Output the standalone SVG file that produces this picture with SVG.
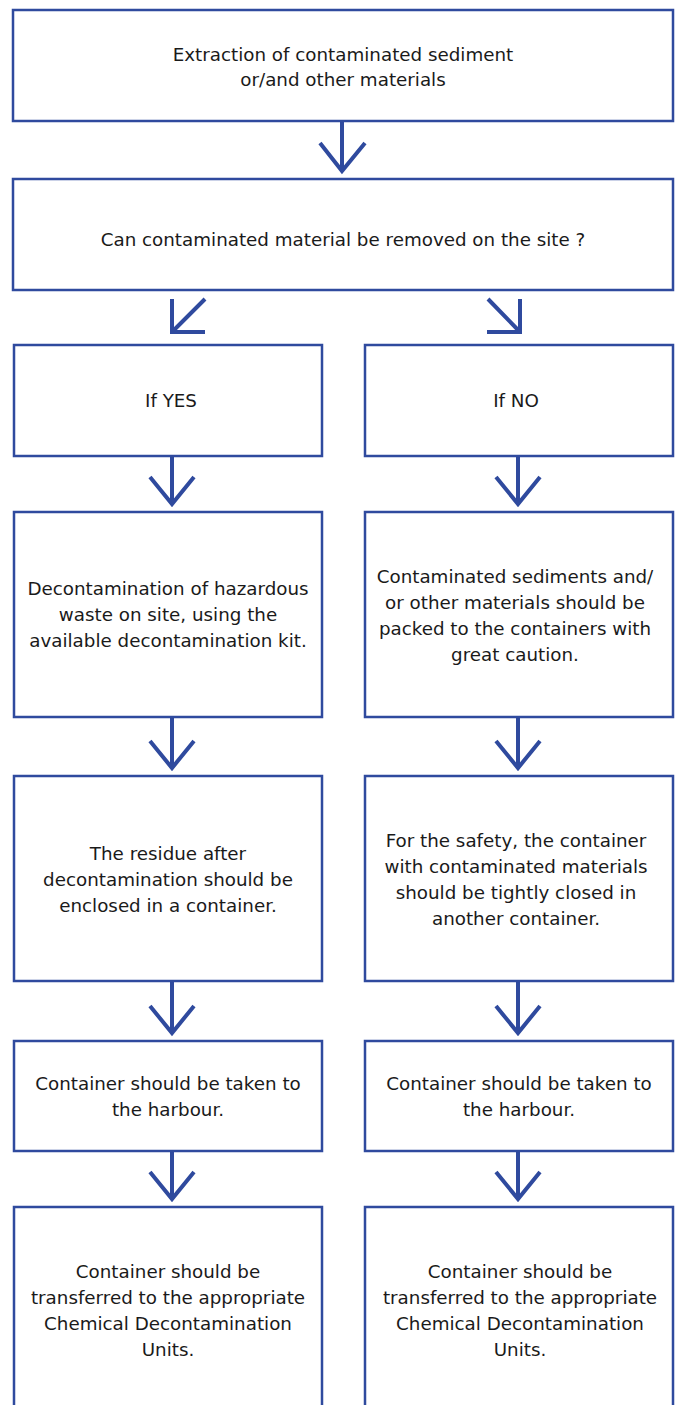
<svg xmlns="http://www.w3.org/2000/svg" width="680" height="1405" viewBox="0 0 680 1405">
<style>
.box{fill:#fff;stroke:#2f4a9e;stroke-width:2.5}
.arr{fill:none;stroke:#2f4a9e;stroke-width:4;stroke-linejoin:miter}
text{font-family:"DejaVu Sans","Liberation Sans",Arial,sans-serif;font-size:18.3px;fill:#1a1a1a;text-anchor:middle}
</style>
<rect width="680" height="1405" fill="#fff"/>
<g id="connectors">
<path class="arr" d="M342 121V171M320 143L342 171L365 143"/>
<path class="arr" d="M205 299L172 332M172 299V332H205"/>
<path class="arr" d="M488 299L520 332M520 299V332H487"/>
<path class="arr" d="M172 456V504M150 477L172 504L194 477"/>
<path class="arr" d="M518 456V504M496 477L518 504L540 477"/>
<path class="arr" d="M172 717V768M150 741L172 768L194 741"/>
<path class="arr" d="M518 717V768M496 741L518 768L540 741"/>
<path class="arr" d="M172 981V1033M150 1006L172 1033L194 1006"/>
<path class="arr" d="M518 981V1033M496 1006L518 1033L540 1006"/>
<path class="arr" d="M172 1151V1199M150 1172L172 1199L194 1172"/>
<path class="arr" d="M518 1151V1199M496 1172L518 1199L540 1172"/>
</g>
<g id="n1"><rect class="box" x="13" y="10" width="660" height="111"/>
<text x="343" y="61">Extraction of contaminated sediment</text>
<text x="343" y="86">or/and other materials</text></g>
<g id="n2"><rect class="box" x="13" y="179" width="660" height="111"/>
<text x="343" y="246">Can contaminated material be removed on the site ?</text></g>
<g id="yes"><rect class="box" x="14" y="345" width="308" height="111"/>
<text x="171" y="407">If YES</text></g>
<g id="no"><rect class="box" x="365" y="345" width="308" height="111"/>
<text x="516" y="407">If NO</text></g>
<g id="yes1"><rect class="box" x="14" y="512" width="308" height="205"/>
<text x="168" y="595">Decontamination of hazardous</text>
<text x="168" y="621">waste on site, using the</text>
<text x="168" y="647">available decontamination kit.</text></g>
<g id="no1"><rect class="box" x="365" y="512" width="308" height="205"/>
<text x="515" y="583">Contaminated sediments and/</text>
<text x="515" y="609">or other materials should be</text>
<text x="515" y="635">packed to the containers with</text>
<text x="515" y="661">great caution.</text></g>
<g id="yes2"><rect class="box" x="14" y="776" width="308" height="205"/>
<text x="168" y="860">The residue after</text>
<text x="168" y="886">decontamination should be</text>
<text x="168" y="912">enclosed in a container.</text></g>
<g id="no2"><rect class="box" x="365" y="776" width="308" height="205"/>
<text x="516" y="847">For the safety, the container</text>
<text x="516" y="873">with contaminated materials</text>
<text x="516" y="899">should be tightly closed in</text>
<text x="516" y="925">another container.</text></g>
<g id="yes3"><rect class="box" x="14" y="1041" width="308" height="110"/>
<text x="168" y="1090">Container should be taken to</text>
<text x="168" y="1116">the harbour.</text></g>
<g id="no3"><rect class="box" x="365" y="1041" width="308" height="110"/>
<text x="519" y="1090">Container should be taken to</text>
<text x="519" y="1116">the harbour.</text></g>
<g id="yes4"><rect class="box" x="14" y="1207" width="308" height="215"/>
<text x="168" y="1278">Container should be</text>
<text x="168" y="1304">transferred to the appropriate</text>
<text x="168" y="1330">Chemical Decontamination</text>
<text x="168" y="1356">Units.</text></g>
<g id="no4"><rect class="box" x="365" y="1207" width="308" height="215"/>
<text x="520" y="1278">Container should be</text>
<text x="520" y="1304">transferred to the appropriate</text>
<text x="520" y="1330">Chemical Decontamination</text>
<text x="520" y="1356">Units.</text></g>
</svg>
